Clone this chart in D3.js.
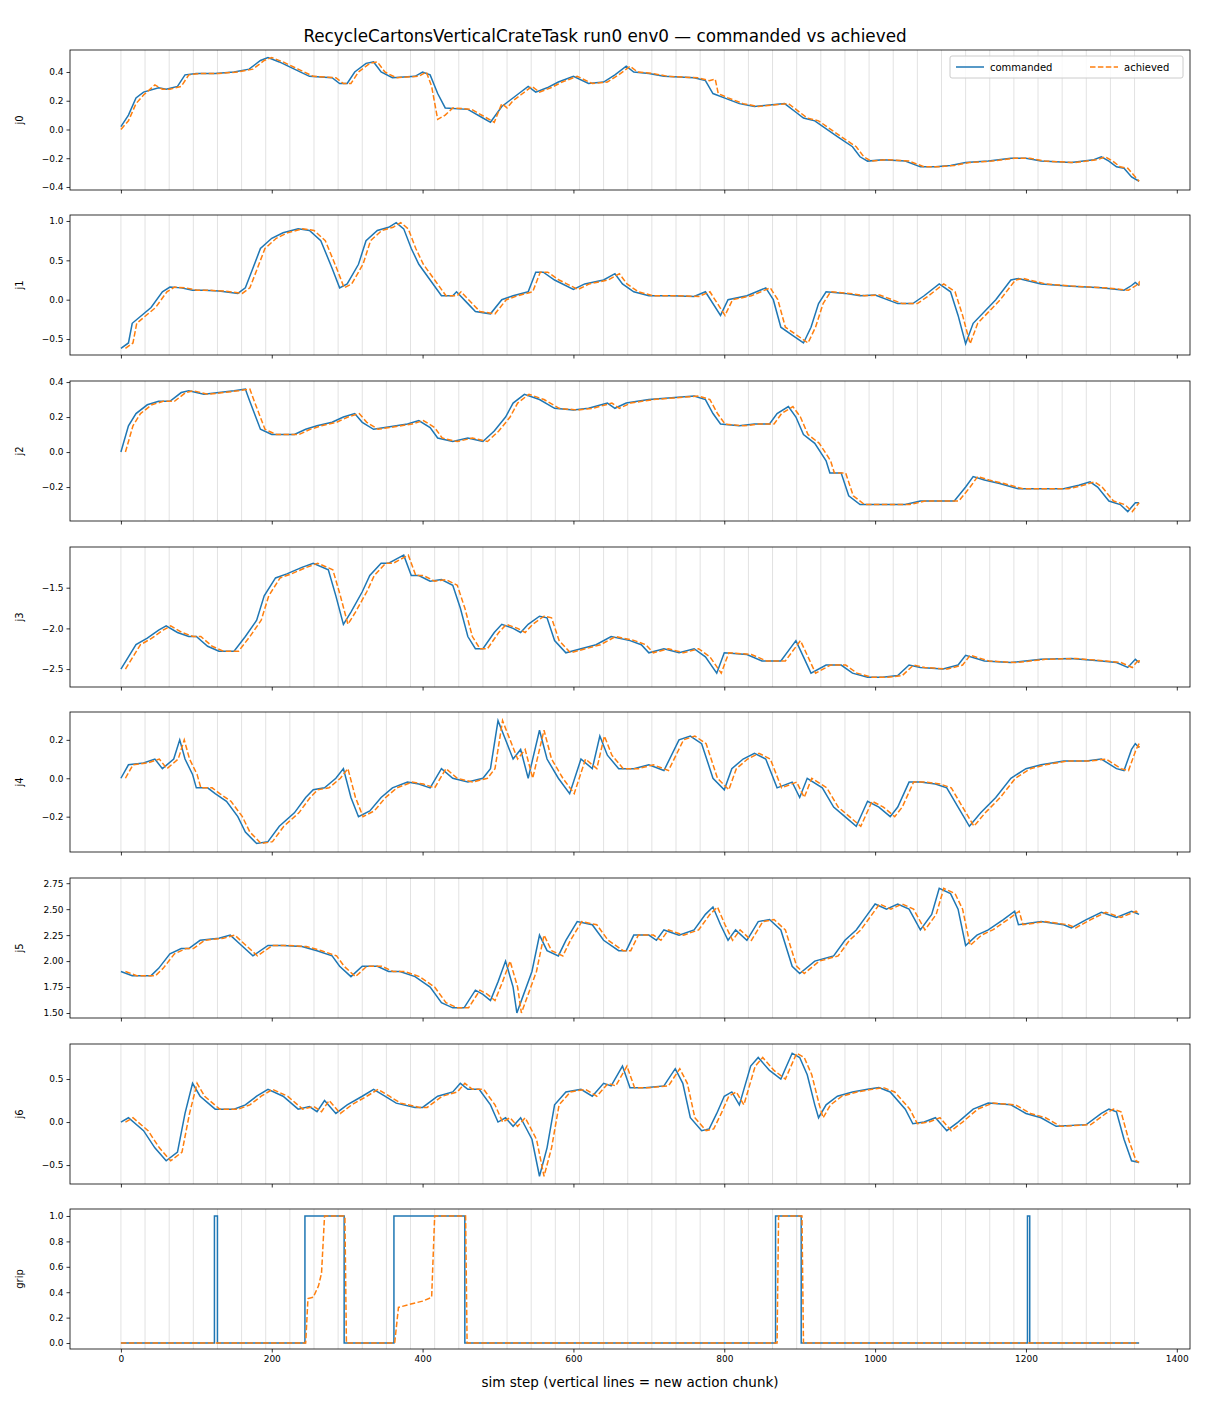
<!DOCTYPE html>
<html><head><meta charset="utf-8">
<script src="https://cdn.jsdelivr.net/npm/d3@7"></script>
<style>body{margin:0;background:#fff}text{font-family:"DejaVu Sans",sans-serif}</style>
</head><body><svg id="c" width="1210" height="1408"></svg>
<script>
// ---- data (step, commanded value) keypoints ----
const j0 = [[0,.02],[10,.1],[20,.22],[30,.26],[50,.29],[60,.28],[75,.3],[85,.38],[100,.39],[125,.39],[150,.4],[170,.42],[185,.48],[195,.5],[210,.47],[230,.42],[250,.37],[280,.36],[290,.32],[300,.32],[310,.4],[325,.46],[335,.47],[345,.4],[360,.36],[390,.37],[400,.4],[410,.38],[420,.25],[430,.15],[460,.14],[480,.08],[490,.05],[505,.16],[515,.2],[525,.24],[540,.3],[550,.26],[565,.29],[580,.33],[600,.37],[620,.32],[640,.33],[655,.38],[670,.44],[680,.4],[700,.39],[720,.37],[760,.36],[775,.34],[785,.25],[800,.22],[820,.18],[840,.16],[860,.17],[880,.18],[895,.12],[905,.08],[920,.06],[950,-.05],[970,-.12],[980,-.19],[990,-.22],[1010,-.21],[1040,-.22],[1060,-.26],[1080,-.26],[1100,-.25],[1120,-.23],[1150,-.22],[1180,-.2],[1200,-.2],[1220,-.22],[1260,-.23],[1290,-.21],[1300,-.19],[1310,-.22],[1320,-.26],[1330,-.27],[1340,-.33],[1350,-.36]];
const j0Achieved = [[0,0],[10,.06],[20,.18],[30,.24],[45,.31],[55,.28],[65,.28],[80,.3],[90,.38],[105,.39],[130,.39],[155,.4],[175,.42],[190,.48],[200,.5],[215,.47],[235,.42],[255,.37],[285,.36],[295,.32],[305,.32],[315,.4],[330,.46],[340,.47],[350,.4],[365,.36],[395,.37],[405,.4],[412,.3],[420,.07],[430,.1],[440,.15],[465,.14],[485,.08],[495,.05],[505,.18],[512,.15],[520,.2],[530,.24],[545,.3],[555,.26],[570,.29],[585,.33],[605,.37],[625,.32],[645,.33],[660,.38],[675,.44],[685,.4],[705,.39],[725,.37],[765,.36],[780,.34],[788,.35],[792,.25],[805,.22],[825,.18],[845,.16],[865,.17],[885,.18],[900,.12],[910,.08],[925,.06],[955,-.05],[975,-.12],[985,-.19],[995,-.22],[1015,-.21],[1045,-.22],[1065,-.26],[1085,-.26],[1105,-.25],[1125,-.23],[1155,-.22],[1185,-.2],[1205,-.2],[1225,-.22],[1265,-.23],[1295,-.21],[1305,-.19],[1315,-.22],[1325,-.26],[1335,-.27],[1345,-.33],[1350,-.36]];
const j1 = [[0,-.62],[10,-.55],[15,-.3],[25,-.22],[40,-.1],[55,.1],[65,.16],[80,.15],[95,.12],[110,.12],[130,.11],[155,.08],[165,.15],[175,.4],[185,.65],[200,.78],[215,.85],[235,.9],[250,.88],[265,.75],[280,.4],[290,.15],[300,.2],[315,.45],[325,.75],[340,.88],[355,.92],[365,.98],[375,.9],[385,.65],[395,.45],[410,.25],[425,.05],[440,.05],[445,.1],[460,-.05],[470,-.15],[490,-.18],[505,0],[520,.05],[540,.1],[550,.35],[560,.35],[575,.25],[600,.13],[615,.2],[640,.25],[655,.33],[665,.2],[680,.1],[700,.05],[730,.05],[760,.04],[775,.1],[795,-.2],[805,0],[830,.05],[855,.15],[865,0],[875,-.35],[890,-.45],[905,-.55],[915,-.35],[925,-.05],[935,.1],[960,.08],[980,.05],[1000,.06],[1030,-.05],[1050,-.05],[1065,.05],[1085,.2],[1100,.1],[1110,-.2],[1120,-.56],[1130,-.3],[1160,0],[1180,.25],[1190,.27],[1220,.2],[1260,.17],[1300,.15],[1330,.12],[1340,.18],[1345,.22],[1350,.18]];
const j2 = [[0,0],[10,.15],[20,.22],[35,.27],[50,.29],[65,.29],[80,.34],[90,.35],[110,.33],[130,.34],[150,.35],[165,.36],[170,.3],[185,.13],[200,.1],[230,.1],[245,.13],[260,.15],[280,.17],[295,.2],[310,.22],[320,.17],[335,.13],[350,.14],[380,.16],[395,.18],[410,.14],[420,.08],[440,.06],[460,.08],[480,.06],[495,.12],[510,.2],[520,.28],[535,.33],[555,.3],[575,.25],[600,.24],[620,.25],[645,.28],[655,.25],[670,.28],[700,.3],[730,.31],[760,.32],[775,.3],[785,.22],[795,.16],[820,.15],[840,.16],[860,.16],[870,.22],[885,.26],[895,.2],[905,.1],[920,.05],[935,-.05],[940,-.12],[955,-.12],[965,-.25],[980,-.3],[1000,-.3],[1020,-.3],[1040,-.3],[1060,-.28],[1080,-.28],[1105,-.28],[1120,-.2],[1130,-.14],[1145,-.16],[1165,-.18],[1190,-.21],[1220,-.21],[1250,-.21],[1270,-.19],[1285,-.17],[1295,-.2],[1310,-.28],[1325,-.3],[1335,-.34],[1345,-.29],[1350,-.29]];
const j3 = [[0,-2.5],[10,-2.35],[20,-2.2],[35,-2.12],[50,-2.02],[60,-1.97],[75,-2.05],[90,-2.1],[100,-2.1],[115,-2.22],[130,-2.28],[150,-2.28],[165,-2.1],[180,-1.9],[190,-1.6],[205,-1.38],[220,-1.33],[240,-1.25],[255,-1.2],[275,-1.28],[285,-1.6],[295,-1.95],[305,-1.8],[320,-1.55],[330,-1.35],[345,-1.2],[355,-1.2],[365,-1.15],[375,-1.1],[385,-1.35],[395,-1.35],[410,-1.42],[425,-1.4],[440,-1.47],[450,-1.75],[460,-2.1],[470,-2.25],[480,-2.25],[495,-2.05],[505,-1.95],[520,-2.0],[530,-2.05],[540,-1.95],[555,-1.85],[565,-1.87],[575,-2.15],[590,-2.3],[610,-2.25],[630,-2.2],[650,-2.1],[675,-2.15],[690,-2.2],[700,-2.3],[720,-2.25],[740,-2.3],[760,-2.25],[775,-2.35],[790,-2.55],[800,-2.3],[830,-2.32],[850,-2.4],[875,-2.4],[895,-2.15],[905,-2.35],[915,-2.55],[935,-2.45],[955,-2.45],[970,-2.55],[990,-2.6],[1010,-2.6],[1030,-2.58],[1045,-2.45],[1060,-2.48],[1090,-2.5],[1110,-2.45],[1120,-2.33],[1145,-2.4],[1180,-2.42],[1220,-2.38],[1260,-2.37],[1300,-2.4],[1320,-2.42],[1335,-2.48],[1345,-2.38],[1350,-2.42]];
const j4 = [[0,0],[10,.07],[30,.08],[45,.1],[55,.05],[70,.1],[78,.2],[85,.1],[95,.02],[100,-.05],[115,-.05],[125,-.08],[140,-.12],[155,-.2],[165,-.28],[180,-.34],[195,-.33],[210,-.25],[230,-.18],[245,-.1],[255,-.06],[270,-.05],[285,0],[295,.05],[305,-.1],[315,-.2],[330,-.17],[345,-.1],[360,-.05],[380,-.02],[395,-.03],[410,-.05],[425,.05],[440,0],[460,-.02],[480,0],[490,.05],[500,.3],[510,.2],[520,.1],[530,.15],[540,0],[555,.25],[565,.1],[580,0],[595,-.08],[610,.1],[625,.05],[635,.22],[645,.12],[660,.05],[680,.05],[700,.07],[720,.04],[740,.2],[755,.22],[770,.18],[785,0],[800,-.06],[810,.05],[825,.1],[840,.13],[855,.1],[870,-.05],[890,-.02],[900,-.1],[910,0],[930,-.05],[945,-.15],[960,-.2],[975,-.25],[990,-.12],[1005,-.15],[1020,-.2],[1030,-.15],[1045,-.02],[1060,-.02],[1080,-.03],[1095,-.05],[1110,-.15],[1125,-.25],[1140,-.18],[1160,-.1],[1180,0],[1200,.05],[1220,.07],[1250,.09],[1280,.09],[1300,.1],[1320,.05],[1330,.04],[1340,.15],[1345,.18],[1350,.16]];
const j5 = [[0,1.9],[15,1.86],[40,1.86],[50,1.93],[65,2.07],[80,2.12],[90,2.12],[105,2.2],[130,2.22],[145,2.25],[160,2.15],[175,2.05],[195,2.15],[215,2.15],[240,2.14],[260,2.1],[280,2.05],[290,1.95],[305,1.85],[320,1.95],[340,1.95],[355,1.9],[370,1.9],[390,1.85],[410,1.75],[425,1.6],[440,1.55],[455,1.55],[470,1.72],[480,1.68],[490,1.62],[500,1.8],[510,2.0],[520,1.75],[525,1.5],[530,1.6],[545,1.9],[555,2.25],[565,2.1],[580,2.05],[590,2.2],[605,2.38],[625,2.35],[640,2.2],[660,2.1],[670,2.1],[680,2.25],[700,2.25],[710,2.2],[720,2.3],[740,2.25],[760,2.3],[775,2.45],[785,2.52],[795,2.35],[805,2.2],[815,2.3],[830,2.2],[845,2.38],[860,2.4],[875,2.3],[890,1.95],[900,1.88],[920,2.0],[945,2.05],[960,2.2],[975,2.3],[990,2.45],[1000,2.55],[1015,2.5],[1030,2.55],[1045,2.5],[1060,2.3],[1075,2.45],[1085,2.7],[1100,2.65],[1110,2.5],[1120,2.15],[1135,2.25],[1150,2.3],[1170,2.4],[1185,2.48],[1190,2.35],[1220,2.38],[1250,2.35],[1260,2.32],[1280,2.4],[1300,2.47],[1320,2.42],[1340,2.48],[1350,2.45]];
const j6 = [[0,0],[10,.05],[30,-.1],[45,-.3],[60,-.45],[75,-.35],[85,.1],[95,.45],[105,.3],[125,.15],[150,.15],[165,.2],[180,.3],[195,.38],[215,.3],[235,.15],[250,.18],[260,.12],[270,.25],[285,.1],[300,.2],[320,.3],[335,.38],[350,.3],[365,.22],[390,.17],[400,.17],[420,.3],[440,.35],[450,.45],[460,.38],[475,.38],[490,.2],[500,0],[510,.05],[520,-.05],[530,.05],[545,-.2],[555,-.63],[565,-.3],[575,.2],[590,.35],[610,.38],[625,.3],[640,.45],[650,.42],[665,.65],[675,.4],[695,.4],[720,.42],[735,.62],[745,.45],[755,.05],[770,-.1],[780,-.08],[790,.1],[800,.3],[810,.35],[820,.2],[835,.65],[845,.75],[860,.6],[875,.5],[890,.8],[900,.75],[910,.55],[920,.2],[925,.05],[935,.2],[950,.3],[970,.35],[990,.38],[1005,.4],[1020,.35],[1040,.15],[1050,-.02],[1065,0],[1080,.05],[1095,-.1],[1110,0],[1130,.15],[1150,.22],[1180,.2],[1200,.1],[1220,.05],[1240,-.05],[1280,-.03],[1300,.1],[1310,.15],[1320,.12],[1330,-.2],[1340,-.45],[1350,-.47]];
const grip = [[0,0],[124,0],[124,1],[128,1],[128,0],[244,0],[244,1],[296,1],[296,0],[362,0],[362,1],[456,1],[456,0],[868,0],[868,1],[902,1],[902,0],[1202,0],[1202,1],[1205,1],[1205,0],[1350,0]];
const gripAchieved = [[0,0],[245,0],[248,.35],[255,.36],[262,.45],[266,.55],[270,1],[297,1],[299,0],[363,0],[368,.28],[380,.3],[400,.33],[412,.36],[416,1],[457,1],[459,0],[870,0],[872,1],[903,1],[905,0],[1350,0]];
const ACH_LAG = 6; // achieved trails commanded by a few sim steps
const panels = [
 {name:"j0", cmd:j0, ach:j0Achieved, dom:[-0.421,0.553], ticks:[-0.4,-0.2,0,0.2,0.4], fmt:".1f"},
 {name:"j1", cmd:j1, dom:[-0.703,1.076], ticks:[-0.5,0,0.5,1.0], fmt:".1f"},
 {name:"j2", cmd:j2, dom:[-0.394,0.406], ticks:[-0.2,0,0.2,0.4], fmt:".1f"},
 {name:"j3", cmd:j3, dom:[-2.72,-1.0], ticks:[-2.5,-2.0,-1.5], fmt:".1f"},
 {name:"j4", cmd:j4, dom:[-0.384,0.345], ticks:[-0.2,0,0.2], fmt:".1f"},
 {name:"j5", cmd:j5, dom:[1.452,2.80], ticks:[1.5,1.75,2.0,2.25,2.5,2.75], fmt:".2f"},
 {name:"j6", cmd:j6, dom:[-0.72,0.907], ticks:[-0.5,0,0.5], fmt:".1f"},
 {name:"grip", cmd:grip, ach:gripAchieved, dom:[-0.047,1.055], ticks:[0,0.2,0.4,0.6,0.8,1.0], fmt:".1f"}
];
const xTicks = [0,200,400,600,800,1000,1200,1400];
const chunkSize = 32, lastStep = 1350;

const svg = d3.select("#c");
const L=70, R=1190, tops=[50,215,381,547,712,878,1044,1209], H=140;
const x = d3.scaleLinear().domain([-67.5,1417.5]).range([L,R]);
const blue="#1f77b4", orange="#ff7f0e";
const chunks = d3.range(0,lastStep,chunkSize);

panels.forEach((p,i)=>{
  const t=tops[i];
  const y=d3.scaleLinear().domain(p.dom).range([t+H,t]);
  const g=svg.append("g");
  g.selectAll("line.ch").data(chunks).join("line")
   .attr("x1",d=>x(d)).attr("x2",d=>x(d)).attr("y1",t).attr("y2",t+H)
   .attr("stroke","#000").attr("stroke-opacity",0.15).attr("stroke-width",0.8);
  const ach = p.ach || p.cmd.map(([s,v])=>[Math.min(s+ACH_LAG,lastStep),v]);
  const line=d3.line().x(d=>x(d[0])).y(d=>y(d[1]));
  g.append("path").attr("d",line(p.cmd)).attr("fill","none").attr("stroke",blue).attr("stroke-width",1.5);
  g.append("path").attr("d",line(ach)).attr("fill","none").attr("stroke",orange).attr("stroke-width",1.5).attr("stroke-dasharray","5.5,2.4");
  g.append("rect").attr("x",L).attr("y",t).attr("width",R-L).attr("height",H).attr("fill","none").attr("stroke","#000").attr("stroke-width",0.8);
  const ya=g.append("g").attr("transform",`translate(${L},0)`).call(d3.axisLeft(y).tickValues(p.ticks).tickFormat(d3.format(p.fmt)).tickSize(3.5).tickPadding(3));
  const xa=g.append("g").attr("transform",`translate(0,${t+H})`).call(d3.axisBottom(x).tickValues(xTicks).tickSize(3.5).tickPadding(3).tickFormat(i===7?d3.format("d"):""));
  [ya,xa].forEach(a=>{a.select(".domain").remove();a.selectAll("text").attr("font-size",9).attr("fill","#000");a.selectAll("line").attr("stroke","#000").attr("stroke-width",0.8);});
  g.append("text").attr("transform",`translate(23,${t+H/2}) rotate(-90)`).attr("text-anchor","middle").attr("font-size",10).text(p.name);
});
svg.append("text").attr("x",605).attr("y",42).attr("text-anchor","middle").attr("font-size",16.8).text("RecycleCartonsVerticalCrateTask run0 env0 — commanded vs achieved");
svg.append("text").attr("x",630).attr("y",1387).attr("text-anchor","middle").attr("font-size",13.5).text("sim step (vertical lines = new action chunk)");
// legend
const lg=svg.append("g").attr("transform","translate(950,56)");
lg.append("rect").attr("width",233).attr("height",22).attr("rx",2).attr("fill","#fff").attr("fill-opacity",0.8).attr("stroke","#ccc");
lg.append("line").attr("x1",6).attr("x2",34).attr("y1",11).attr("y2",11).attr("stroke",blue).attr("stroke-width",1.5);
lg.append("text").attr("x",40).attr("y",14.5).attr("font-size",10).text("commanded");
lg.append("line").attr("x1",140).attr("x2",168).attr("y1",11).attr("y2",11).attr("stroke",orange).attr("stroke-width",1.5).attr("stroke-dasharray","5.5,2.4");
lg.append("text").attr("x",174).attr("y",14.5).attr("font-size",10).text("achieved");
</script></body></html>
